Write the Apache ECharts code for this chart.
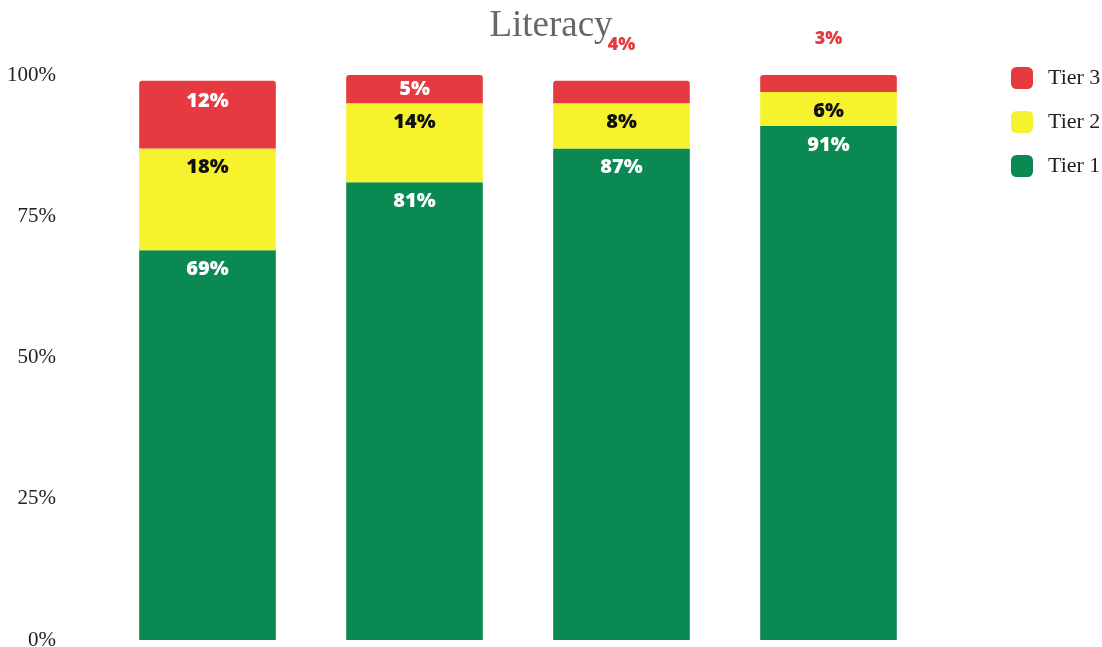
<!DOCTYPE html>
<html>
<head>
<meta charset="utf-8">
<title>Literacy</title>
<script src="https://cdn.jsdelivr.net/npm/echarts@6/dist/echarts.min.js"></script>
<style>
  html, body { margin: 0; padding: 0; background: #fff; }
  #chart { width: 1102px; height: 647px; }
</style>
</head>
<body>
<div id="chart"></div>
<script>
// data
const categories = ['A', 'B', 'C', 'D']
const tier1 = [69, 81, 87, 91]
const tier2 = [18, 14, 8, 6]
const tier3 = [12, 5, 4, 3]
const yTicks = [0, 25, 50, 75, 100]

const labelFont = { fontFamily: 'Open Sans', fontWeight: 800, fontSize: 20 }

// tier 3: small slices get their label above the bar in red
const tier3Data = tier3.map((v, i) => {
  if (v <= 4) {
    return {
      value: v,
      label: { position: 'top', distance: 27, color: '#e63a41', fontSize: 18 }
    }
  }
  if (v <= 6) {
    return { value: v, label: { position: 'inside' } }
  }
  return v
})

const option = {
  animation: false,
  title: {
    text: 'Literacy',
    left: 'center',
    top: 3,
    textStyle: { fontFamily: 'Liberation Serif', fontWeight: 'normal', fontSize: 37, color: '#666' }
  },
  legend: {
    data: ['Tier 3', 'Tier 2', 'Tier 1'],
    orient: 'vertical',
    left: 1006,
    top: 62,
    itemWidth: 22,
    itemHeight: 22,
    itemGap: 22,
    icon: 'roundRect',
    textStyle: { fontFamily: 'Liberation Serif', fontSize: 22, color: '#222', padding: [0, 0, 0, 10] }
  },
  grid: { left: 104, right: 170, top: 75, bottom: 7, outerBoundsMode: 'none' },
  xAxis: {
    type: 'category',
    data: categories,
    axisLine: { show: false },
    axisTick: { show: false },
    axisLabel: { show: false }
  },
  yAxis: {
    type: 'value',
    min: 0,
    max: 100,
    interval: 25,
    splitLine: { show: false },
    axisLine: { show: false },
    axisTick: { show: false },
    axisLabel: {
      margin: 48,
      fontFamily: 'Liberation Serif',
      fontSize: 21,
      color: '#222',
      formatter: v => yTicks.includes(v) ? v + '%' : ''
    }
  },
  series: [
    {
      name: 'Tier 1',
      type: 'bar',
      stack: 'all',
      barWidth: '66%',
      data: tier1,
      itemStyle: { color: '#0a8a52' },
      label: { show: true, position: 'insideTop', distance: 9, color: '#fff', formatter: '{c}%', ...labelFont }
    },
    {
      name: 'Tier 2',
      type: 'bar',
      stack: 'all',
      data: tier2,
      itemStyle: { color: '#f7f22e' },
      label: { show: true, position: 'insideTop', distance: 9, color: '#111', formatter: '{c}%', ...labelFont }
    },
    {
      name: 'Tier 3',
      type: 'bar',
      stack: 'all',
      data: tier3Data,
      itemStyle: { color: '#e63a41', borderRadius: [3, 3, 0, 0] },
      label: { show: true, position: 'insideTop', distance: 11, color: '#fff', formatter: '{c}%', ...labelFont }
    }
  ]
}

const myChart = echarts.init(document.getElementById('chart'))
myChart.setOption(option)
</script>
</body>
</html>
